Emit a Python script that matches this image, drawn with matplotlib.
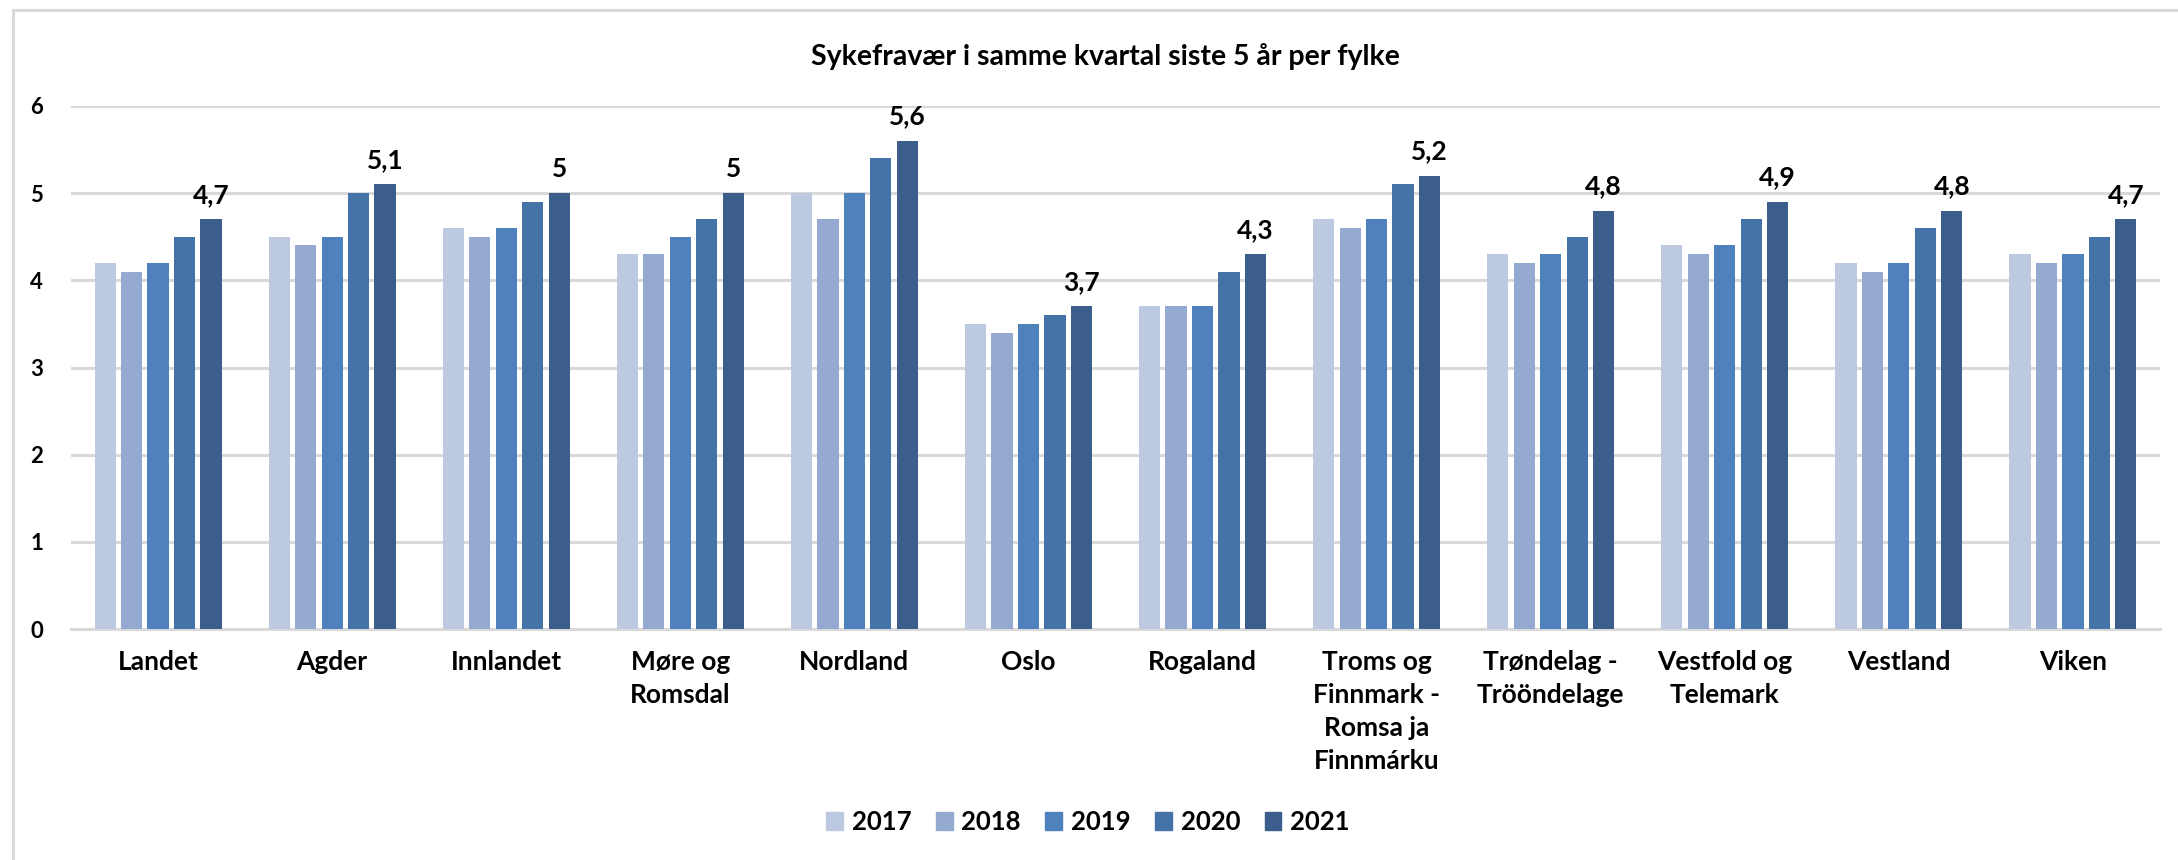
import numpy as np
import matplotlib
matplotlib.use("Agg")
import matplotlib.pyplot as plt
from matplotlib.lines import Line2D

plt.rcParams['font.family'] = ['Lato', 'DejaVu Sans']
plt.rcParams['font.weight'] = 'bold'

#%% Data
fylker = ['Landet', 'Agder', 'Innlandet', 'Møre og\nRomsdal', 'Nordland', 'Oslo',
          'Rogaland', 'Troms og\nFinnmark -\nRomsa ja\nFinnmárku', 'Trøndelag -\nTrööndelage',
          'Vestfold og\nTelemark', 'Vestland', 'Viken']
years = ['2017', '2018', '2019', '2020', '2021']
v2017 = [4.2, 4.5, 4.6, 4.3, 5.0, 3.5, 3.7, 4.7, 4.3, 4.4, 4.2, 4.3]
v2018 = [4.1, 4.4, 4.5, 4.3, 4.7, 3.4, 3.7, 4.6, 4.2, 4.3, 4.1, 4.2]
v2019 = [4.2, 4.5, 4.6, 4.5, 5.0, 3.5, 3.7, 4.7, 4.3, 4.4, 4.2, 4.3]
v2020 = [4.5, 5.0, 4.9, 4.7, 5.4, 3.6, 4.1, 5.1, 4.5, 4.7, 4.6, 4.5]
v2021 = [4.7, 5.1, 5.0, 5.0, 5.6, 3.7, 4.3, 5.2, 4.8, 4.9, 4.8, 4.7]
series = [v2017, v2018, v2019, v2020, v2021]
colors = ['#BDC9E1', '#95AAD0', '#4F81BD', '#4572A7', '#3B5E8D']

#%% Plot
W, H = 2178, 860
fig = plt.figure(figsize=(W/100, H/100), dpi=100)
ax = fig.add_axes([71/W, 1-629/H, (2160-71)/W, (629-106)/H])

x = np.arange(len(fylker))
step = 0.152
bw = 0.122
for i in range(len(years)):
    pos = x + (i-2)*step
    ax.bar(pos, series[i], width=bw, color=colors[i], edgecolor='none', zorder=3)
    if i == len(years)-1:
        for p, v in zip(pos, series[i]):
            lab = ('%g' % v).replace('.', ',')
            ax.annotate(lab, (p, v), xytext=(0, 9), textcoords='offset points',
                        ha='center', va='bottom', fontsize=19, fontweight='bold')

ax.set_xlim(-0.5, len(fylker)-0.5)
ax.set_ylim(0, 6)
ax.set_yticks(range(7))
ax.grid(axis='y', color='#D9D9D9', linewidth=2.2, zorder=0)
ax.set_xticks(x)
ax.set_xticklabels(fylker, fontsize=19, fontweight='bold', linespacing=1.45)
ax.tick_params(axis='x', length=0, pad=15)
ax.tick_params(axis='y', length=0, pad=20, labelsize=16)
for lab in ax.get_yticklabels():
    lab.set_fontweight('bold')
for s in ['top', 'right', 'left']:
    ax.spines[s].set_visible(False)
ax.spines['bottom'].set_color('#D9D9D9')
ax.spines['bottom'].set_linewidth(2.2)

fig.text(1105/W, 1-56/H, 'Sykefravær i samme kvartal siste 5 år per fylke',
         ha='center', va='center', fontsize=20.5, fontweight='bold')

# chart border (left and top only)
fig.add_artist(Line2D([13/W, 13/W], [0, 1-10/H], color='#D9D9D9', linewidth=2.2))
fig.add_artist(Line2D([13/W, 1], [1-10/H, 1-10/H], color='#D9D9D9', linewidth=2.2))

handles = [plt.Rectangle((0, 0), 1, 1, color=c) for c in colors]
fig.legend(handles, years, loc='center', bbox_to_anchor=(1088/W, 1-822/H), ncol=5,
           frameon=False, fontsize=18.5, handlelength=0.65, handleheight=0.65,
           handletextpad=0.35, columnspacing=0.95)

fig.savefig('out.png', dpi=100)
